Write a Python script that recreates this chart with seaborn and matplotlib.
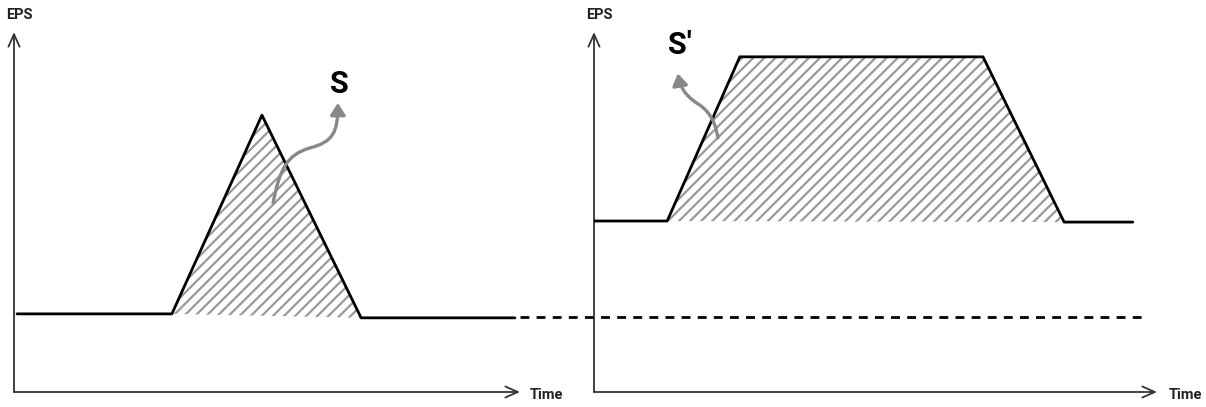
import numpy as np
import pandas as pd
import matplotlib
matplotlib.use("Agg")
import matplotlib.pyplot as plt
import seaborn as sns
from matplotlib.path import Path
from matplotlib.patches import FancyArrowPatch

# Left panel: short EPS spike (area S)
left_time = [0.6, 31.2, 49.0, 68.6, 99.0]
left_eps = [21.7, 21.7, 76.9, 20.6, 20.6]

# Right panel: sustained EPS increase (area S')
right_time = [0.0, 13.0, 25.9, 69.1, 83.5, 95.7]
right_eps = [47.5, 47.5, 93.1, 93.1, 47.2, 47.2]

# dashed reference level continued through the right panel
ref_time = [-13.1, 97.9]
ref_eps = [20.8, 20.8]

axis_labels = ["EPS", "Time"]
area_labels = ["S", "S\u2032"]

sns.set_theme(style="white")
plt.rcParams['font.family'] = ['Roboto', 'DejaVu Sans']
plt.rcParams['hatch.linewidth'] = 1.6

fig = plt.figure(figsize=(12.06, 4.07), dpi=100)
W, H = 1206, 407
ax_l = fig.add_axes([14 / W, 15 / H, 506 / W, 360 / H])
ax_r = fig.add_axes([594 / W, 15 / H, 563 / W, 360 / H])

for ax in (ax_l, ax_r):
    ax.set_xlim(0, 100)
    ax.set_ylim(0, 100)
    ax.set_xticks([])
    ax.set_yticks([])
    for s in ax.spines.values():
        s.set_visible(False)
    ax.patch.set_alpha(0)
    # axis arrows
    arr = dict(arrowstyle="->,head_length=0.45,head_width=0.2", lw=1.3,
               color="#333333", shrinkA=0, shrinkB=0, mutation_scale=20)
    ax.annotate("", xy=(1, 0), xytext=(0, 0), xycoords="axes fraction", arrowprops=arr)
    ax.annotate("", xy=(0, 1), xytext=(0, 0), xycoords="axes fraction", arrowprops=arr)
    ax.text(0.01, 1.047, axis_labels[0], transform=ax.transAxes, ha="center", va="center",
            fontsize=10.5, fontweight="bold", color="#222222")
    ax.text(1.02, -0.008, axis_labels[1], transform=ax.transAxes, ha="left", va="center",
            fontsize=10.5, fontweight="bold", color="#222222")

# hatched areas
ax_l.fill(left_time[1:4], left_eps[1:4], facecolor="none", edgecolor="#999999",
          hatch="///", linewidth=0, zorder=1)
ax_r.fill(right_time[1:5], right_eps[1:5], facecolor="none", edgecolor="#999999",
          hatch="///", linewidth=0, zorder=1)

# EPS lines
df_l = pd.DataFrame({"time": left_time, "eps": left_eps})
df_r = pd.DataFrame({"time": right_time, "eps": right_eps})
sns.lineplot(data=df_l, x="time", y="eps", sort=False, color="black", lw=2, ax=ax_l, zorder=3)
sns.lineplot(data=df_r, x="time", y="eps", sort=False, color="black", lw=2, ax=ax_r, zorder=3)
ax_r.plot(ref_time, ref_eps, color="black", lw=2, dashes=(3.2, 2.6), clip_on=False, zorder=3)

for ax in (ax_l, ax_r):
    ax.set_xlabel("")
    ax.set_ylabel("")

# curved gray pointers to the area labels
def pointer(ax, verts):
    codes = [Path.MOVETO] + [Path.CURVE4] * (len(verts) - 1)
    p = FancyArrowPatch(path=Path(verts, codes), arrowstyle="-|>,head_length=7,head_width=4.5",
                        color="#888888", lw=2.4, transform=ax.transData, zorder=4,
                        clip_on=False)
    ax.add_patch(p)

pointer(ax_l, [(51.2, 52.5), (52.5, 62.0), (54.0, 66.0), (58.5, 67.8),
               (63.0, 69.5), (64.0, 72.0), (64.0, 80.3)])
pointer(ax_r, [(22.0, 70.6), (21.5, 76.0), (20.0, 78.5), (18.5, 80.0),
               (16.0, 82.5), (15.3, 85.0), (14.9, 88.5)])

ax_l.text(64.4, 85.6, area_labels[0], ha="center", va="center", fontsize=22,
          fontweight="bold", color="black")
ax_r.text(15.3, 96.4, area_labels[1], ha="center", va="center", fontsize=22,
          fontweight="bold", color="black", clip_on=False)

fig.savefig("out.png", dpi=100)
